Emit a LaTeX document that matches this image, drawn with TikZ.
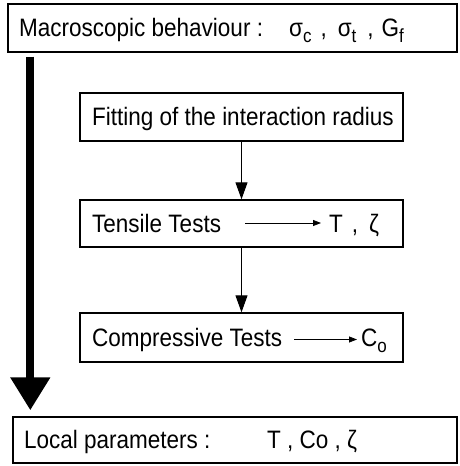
\documentclass[tikz,border=0pt]{standalone}
\usepackage{fontspec}
\usepackage{graphicx}
\setmainfont{Liberation Sans}
\usetikzlibrary{arrows.meta,calc}

% slightly tall lettering
\newcommand\tall[1]{\scalebox{1}[1.12]{#1}}
% lowered small index used after a symbol
\newcommand\idx[1]{\raisebox{-5.5pt}{\fontsize{17pt}{17pt}\selectfont #1}}

\tikzset{
  box/.style={draw=black, line width=1.4pt, rectangle, inner sep=0pt},
  txt/.style={inner sep=0pt, font=\fontsize{22.5pt}{24pt}\selectfont},
  flow/.style={line width=1.1pt, -{Triangle[length=17pt,width=12pt]}},
  yields/.style={line width=0.8pt, -{Triangle[length=8pt,width=6pt]}},
  bigflow/.style={line width=8pt, -{Triangle[length=33pt,width=38pt]}},
}

\begin{document}
\begin{tikzpicture}[x=1pt,y=-1pt]
  \useasboundingbox (0,0) rectangle (459,466);

  % frames
  \node[box, minimum width=449pt, minimum height=48pt] (macro) at (232.5,28) {};
  \node[box, minimum width=323pt, minimum height=48pt] (fitbox) at (241.5,117) {};
  \node[box, minimum width=323pt, minimum height=47pt] (tensbox) at (241.5,223.5) {};
  \node[box, minimum width=323pt, minimum height=49pt] (compbox) at (241.5,337.5) {};
  \node[box, minimum width=444pt, minimum height=46pt] (local) at (235,440) {};

  % texts
  \node[txt, anchor=base west] (macrotxt) at (19,36) {\tall{Macroscopic behaviour :}};
  \node[txt, anchor=base west] (macrores) at (289,36)
    {\tall{σ\idx{c}\hspace{9pt},\hspace{11pt}σ\idx{t}\hspace{11pt},\hspace{8pt}G\idx{f}}};
  \node[txt, anchor=base west] (fittxt) at (92,125) {\tall{Fitting of the interaction radius}};
  \node[txt, anchor=base west] (tenstxt) at (92,232) {\tall{Tensile Tests}};
  \node[txt, anchor=base west] (tensres) at (329,232) {\tall{T\hspace{9pt},\hspace{11pt}ζ}};
  \node[txt, anchor=base west] (comptxt) at (92,346) {\tall{Compressive Tests}};
  \node[txt, anchor=base west] (compres) at (361,346) {\tall{C\idx{o}}};
  \node[txt, anchor=base west] (localtxt) at (24,448) {\tall{Local parameters :}};
  \node[txt, anchor=base west] (localres) at (267,448) {\tall{T , Co , ζ}};

  % connectors
  \draw[flow] (fitbox.south) -- (tensbox.north);
  \draw[flow] (tensbox.south) -- (compbox.north);
  \draw[yields, shorten <=24pt, shorten >=8pt] (tenstxt.east) -- (tenstxt.east -| tensres.west);
  \draw[yields, shorten <=12pt, shorten >=4pt] (comptxt.east) -- (comptxt.east -| compres.west);
  \draw[bigflow] ($(macro.south west)+(23,4)$) -- ($(local.north west)+(18,-6)$);
\end{tikzpicture}
\end{document}
